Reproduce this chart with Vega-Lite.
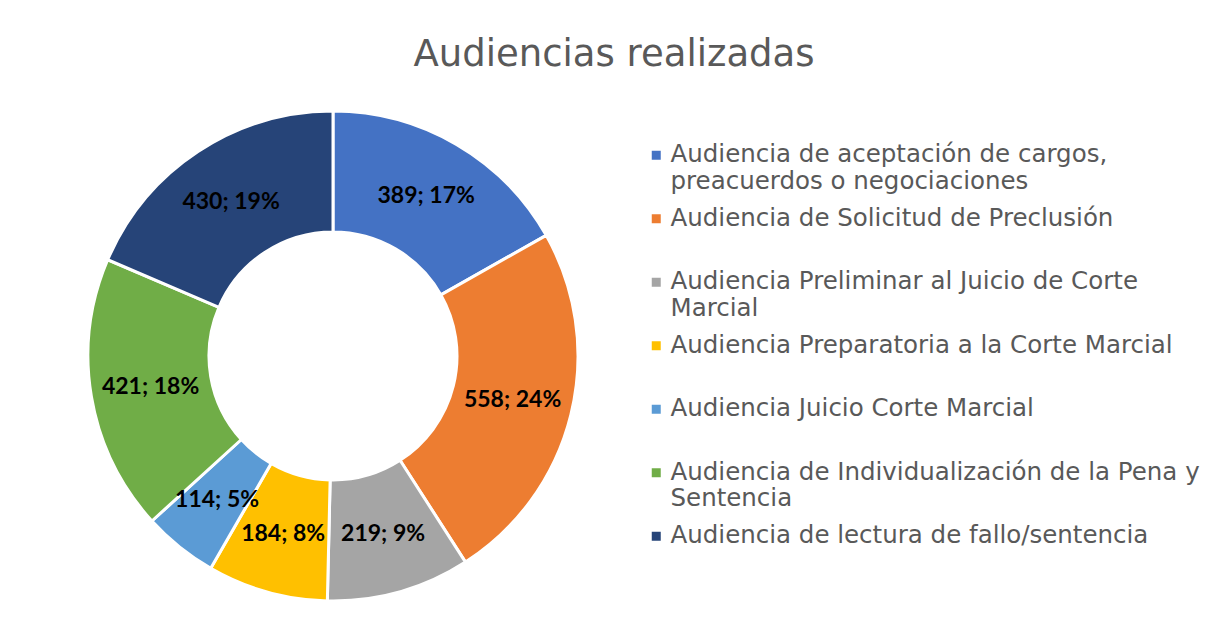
{
  "$schema": "https://vega.github.io/schema/vega-lite/v6.json",
  "autosize": "none",
  "width": 490,
  "height": 490,
  "padding": {"left": 88, "top": 111, "right": 640, "bottom": 32},
  "background": "white",
  "title": {
    "text": "Audiencias realizadas",
    "font": "DejaVu Sans",
    "fontSize": 37,
    "fontWeight": "normal",
    "color": "#595959",
    "anchor": "middle",
    "dx": 281,
    "offset": 31
  },
  "data": {
    "values": [
      {"audiencia": "Audiencia de aceptación de cargos, preacuerdos o negociaciones", "orden": 1, "cantidad": 389, "porcentaje": 17},
      {"audiencia": "Audiencia de Solicitud de Preclusión", "orden": 2, "cantidad": 558, "porcentaje": 24},
      {"audiencia": "Audiencia Preliminar al Juicio de Corte Marcial", "orden": 3, "cantidad": 219, "porcentaje": 9},
      {"audiencia": "Audiencia Preparatoria a la Corte Marcial", "orden": 4, "cantidad": 184, "porcentaje": 8},
      {"audiencia": "Audiencia Juicio Corte Marcial", "orden": 5, "cantidad": 114, "porcentaje": 5},
      {"audiencia": "Audiencia de Individualización de la Pena y Sentencia", "orden": 6, "cantidad": 421, "porcentaje": 18},
      {"audiencia": "Audiencia de lectura de fallo/sentencia", "orden": 7, "cantidad": 430, "porcentaje": 19}
    ]
  },
  "transform": [
    {"calculate": "datum.cantidad + '; ' + datum.porcentaje + '%'", "as": "etiqueta"}
  ],
  "encoding": {
    "theta": {"field": "cantidad", "type": "quantitative", "stack": true},
    "order": {"field": "orden", "type": "quantitative"}
  },
  "layer": [
    {
      "mark": {"type": "arc", "outerRadius": 245, "innerRadius": 124, "stroke": "white", "strokeWidth": 3},
      "encoding": {
        "color": {
          "field": "audiencia",
          "type": "nominal",
          "scale": {
            "domain": [
              "Audiencia de aceptación de cargos, preacuerdos o negociaciones",
              "Audiencia de Solicitud de Preclusión",
              "Audiencia Preliminar al Juicio de Corte Marcial",
              "Audiencia Preparatoria a la Corte Marcial",
              "Audiencia Juicio Corte Marcial",
              "Audiencia de Individualización de la Pena y Sentencia",
              "Audiencia de lectura de fallo/sentencia"
            ],
            "range": ["#4472C4", "#ED7D31", "#A5A5A5", "#FFC000", "#5B9BD5", "#70AD47", "#264478"]
          },
          "legend": {
            "orient": "none",
            "legendX": 556,
            "legendY": 32,
            "title": null,
            "padding": 0,
            "symbolType": "square",
            "symbolSize": 81,
            "symbolStrokeWidth": 0,
            "labelFont": "DejaVu Sans",
            "labelFontSize": 24.5,
            "labelColor": "#595959",
            "labelLimit": 700,
            "labelOffset": 2,
            "labelBaseline": "middle",
            "rowPadding": 11.5,
            "labelExpr": "datum.label == 'Audiencia de aceptación de cargos, preacuerdos o negociaciones' ? ['Audiencia de aceptación de cargos,', 'preacuerdos o negociaciones'] : datum.label == 'Audiencia Preliminar al Juicio de Corte Marcial' ? ['Audiencia Preliminar al Juicio de Corte', 'Marcial'] : datum.label == 'Audiencia de Individualización de la Pena y Sentencia' ? ['Audiencia de Individualización de la Pena y', 'Sentencia'] : [datum.label, '']"
          }
        }
      }
    },
    {
      "mark": {"type": "text", "radius": 185, "font": "Lato", "fontSize": 23, "fontWeight": "bold", "color": "black"},
      "encoding": {
        "text": {"field": "etiqueta", "type": "nominal"},
        "detail": {"field": "audiencia", "type": "nominal"}
      }
    }
  ]
}
